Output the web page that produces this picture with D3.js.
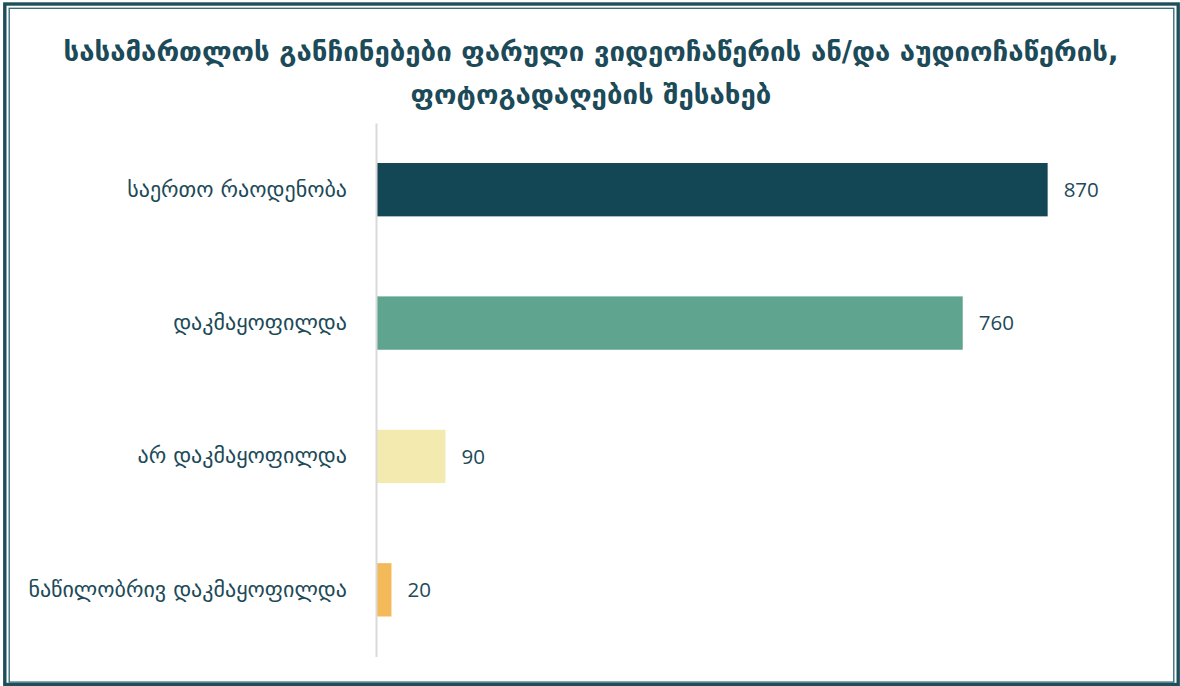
<!DOCTYPE html>
<html>
<head>
<meta charset="utf-8">
<script src="https://cdn.jsdelivr.net/npm/d3@7"></script>
<style>
  html, body { margin: 0; padding: 0; background: #ffffff; }
  svg { display: block; }
</style>
</head>
<body>
<svg id="chart" width="1180" height="686"></svg>
<script>
// Court decisions on covert video/audio recording and photography
const titleLines = [
  "სასამართლოს განჩინებები ფარული ვიდეოჩაწერის ან/და აუდიოჩაწერის,",
  "ფოტოგადაღების შესახებ"
];
const categories = [
  "საერთო რაოდენობა",
  "დაკმაყოფილდა",
  "არ დაკმაყოფილდა",
  "ნაწილობრივ დაკმაყოფილდა"
];
const values = [870, 760, 90, 20];
const barColors = ["#134756", "#5ea48f", "#f3eaaf", "#f4ba59"];

const W = 1180, H = 686;
const ink = "#1c4a58";
const svg = d3.select("#chart");

// double frame
svg.append("rect")
  .attr("x", 4.8).attr("y", 4).attr("width", 1173.4).attr("height", 680.5)
  .attr("fill", "none").attr("stroke", "#1d4f5b").attr("stroke-width", 3.4);
svg.append("rect")
  .attr("x", 9.2).attr("y", 8.3).attr("width", 1164.6).attr("height", 673.8)
  .attr("fill", "none").attr("stroke", "#2f6670").attr("stroke-width", 1.3);

// title
const title = svg.append("text")
  .attr("text-anchor", "middle")
  .attr("font-family", "'DejaVu Sans', sans-serif")
  .attr("font-weight", "bold")
  .attr("font-size", 27.6)
  .attr("fill", ink);
titleLines.forEach((t, i) => {
  title.append("tspan").attr("x", W / 2 + 1).attr("y", 61 + i * 43).text(t);
});

// scales
const x = d3.scaleLinear().domain([0, 1000]).range([376, 1148]);
const y = d3.scaleBand().domain(categories).range([123, 656.5])
  .paddingInner(0.6).paddingOuter(0.3);

// bars
svg.append("g").selectAll("rect")
  .data(values)
  .join("rect")
  .attr("x", x(0))
  .attr("y", (d, i) => y(categories[i]))
  .attr("width", d => x(d) - x(0))
  .attr("height", y.bandwidth())
  .attr("fill", (d, i) => barColors[i]);

// category axis
const axis = svg.append("g")
  .attr("transform", `translate(${x(0)},0)`)
  .call(d3.axisLeft(y).tickSize(0).tickPadding(29));
axis.select(".domain").attr("stroke", "#d9d9d9").attr("stroke-width", 2);
axis.selectAll("text")
  .attr("font-family", "'DejaVu Sans', sans-serif")
  .attr("font-size", 22)
  .attr("fill", ink);

// value labels
svg.append("g").selectAll("text")
  .data(values)
  .join("text")
  .attr("x", d => x(d) + 16)
  .attr("y", (d, i) => y(categories[i]) + y.bandwidth() / 2)
  .attr("dy", "0.35em")
  .attr("font-family", "'Open Sans', sans-serif")
  .attr("font-size", 20.5)
  .attr("fill", ink)
  .text(d => d);
</script>
</body>
</html>
